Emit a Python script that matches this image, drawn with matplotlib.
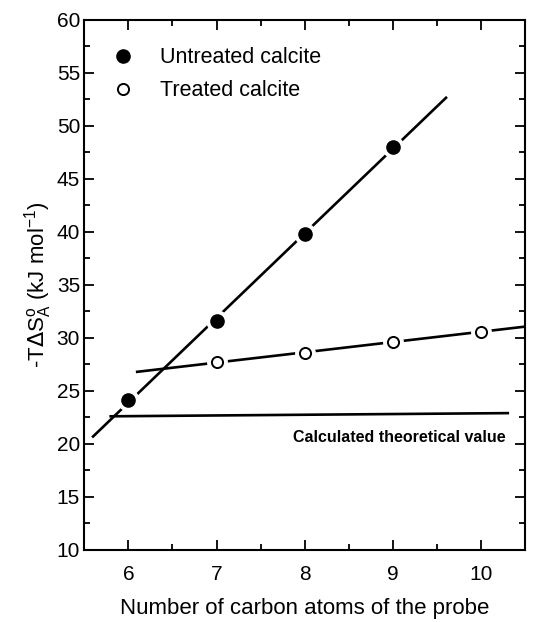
import numpy as np
import matplotlib.pyplot as plt
from matplotlib.ticker import MultipleLocator

plt.rcParams['font.family'] = ['Liberation Sans', 'DejaVu Sans']

# data
untreated_n = [6, 7, 8, 9]
untreated_ts = [24.1, 31.6, 39.8, 48.0]
treated_n = [7, 8, 9, 10]
treated_ts = [27.7, 28.6, 29.6, 30.6]
theo_n = [5.8, 10.3]
theo_ts = [22.6, 22.9]

# extent of the fitted lines
untreated_fit_range = [5.6, 9.6]
treated_fit_range = [6.1, 10.5]

fig = plt.figure(figsize=(5.4, 6.22), dpi=100)
ax = fig.add_axes([0.156, 0.116, 0.817, 0.852])

# linear fits
p_u = np.polyfit(untreated_n, untreated_ts, 1)
xu = np.array(untreated_fit_range)
ax.plot(xu, np.polyval(p_u, xu), color='black', lw=1.9, zorder=1)
p_t = np.polyfit(treated_n, treated_ts, 1)
xt = np.array(treated_fit_range)
ax.plot(xt, np.polyval(p_t, xt), color='black', lw=1.9, zorder=1)
ax.plot(theo_n, theo_ts, color='black', lw=1.9, zorder=1)

# white halo behind the points, then the points
ax.plot(untreated_n, untreated_ts, 'o', ms=15, color='white', zorder=2)
ax.plot(treated_n, treated_ts, 'o', ms=14, color='white', zorder=2)
ax.plot(untreated_n, untreated_ts, 'o', ms=9.5, color='black', zorder=3,
        label='Untreated calcite')
ax.plot(treated_n, treated_ts, 'o', ms=8, mfc='white', mec='black', mew=1.4,
        zorder=3, label='Treated calcite')

ax.text(10.28, 20.6, 'Calculated theoretical value', ha='right', va='center',
        fontsize=11.5, fontweight='bold')

ax.set_xlim(5.5, 10.5)
ax.set_ylim(10, 60)
ax.xaxis.set_major_locator(MultipleLocator(1))
ax.xaxis.set_minor_locator(MultipleLocator(0.5))
ax.yaxis.set_major_locator(MultipleLocator(5))
ax.yaxis.set_minor_locator(MultipleLocator(2.5))
ax.tick_params(which='both', direction='in', top=True, right=True, width=1.3,
               labelsize=15)
ax.tick_params(which='major', length=7)
ax.tick_params(which='minor', length=4)
ax.tick_params(axis='x', pad=11)
ax.tick_params(axis='y', pad=3)
for s in ax.spines.values():
    s.set_linewidth(1.5)

ax.set_xlabel('Number of carbon atoms of the probe', fontsize=16, labelpad=10)
ax.set_ylabel(r'-T$\Delta$S$_\mathregular{A}^\mathregular{o}$ (kJ mol$^\mathregular{-1}$)',
              fontsize=16, labelpad=2)

leg = ax.legend(loc='upper left', frameon=False, fontsize=15.5, handletextpad=1.15,
                borderaxespad=0.5, labelspacing=0.55, handlelength=1.2,
                bbox_to_anchor=(0.014, 0.985))

fig.savefig('out.png', dpi=100)
